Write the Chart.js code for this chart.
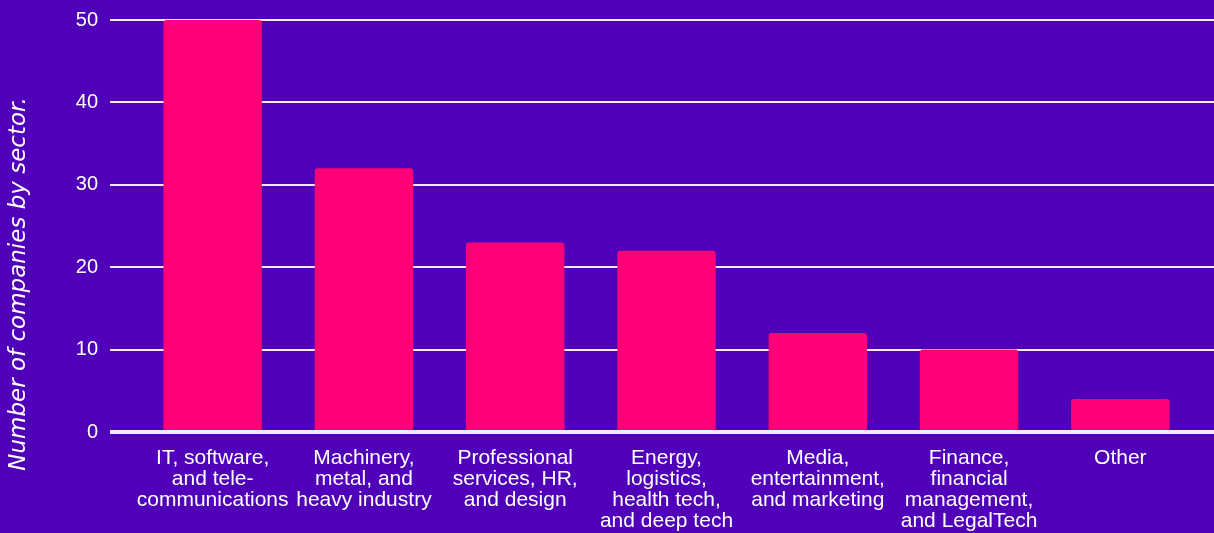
<!DOCTYPE html>
<html>
<head>
<meta charset="utf-8">
<script src="https://cdn.jsdelivr.net/npm/chart.js@4.4.0/dist/chart.umd.min.js"></script>
<style>
  html, body { margin: 0; padding: 0; background: #5000B9; overflow: hidden; }
  #wrap { width: 1214px; height: 533px; position: relative; }
</style>
</head>
<body>
<div id="wrap"><canvas id="sectorChart"></canvas></div>
<script>
var sectors = [
  ["IT, software,", "and tele-", "communications"],
  ["Machinery,", "metal, and", "heavy industry"],
  ["Professional", "services, HR,", "and design"],
  ["Energy,", "logistics,", "health tech,", "and deep tech"],
  ["Media,", "entertainment,", "and marketing"],
  ["Finance,", "financial", "management,", "and LegalTech"],
  ["Other"]
];
var companyCounts = [50, 32, 23, 22, 12, 10, 4];
var yTicks = [0, 10, 20, 30, 40, 50];
var yTitle = "Number of companies by sector.";

var barColor = "#FF0079";
var lineColor = "#F2ECFA";

function gridWidth(v) { return v === 0 ? 4 : 2; }

// gridlines run past the plot area to the right edge of the canvas
var extendGrid = {
  id: "extendGrid",
  beforeDatasetsDraw: function(chart) {
    var c = chart.ctx, y = chart.scales.y, area = chart.chartArea;
    c.save();
    c.strokeStyle = lineColor;
    yTicks.forEach(function(v) {
      var w = gridWidth(v);
      // same pixel snapping the scale uses for its own grid
      var py = Math.round(y.getPixelForValue(v) - w / 2) + w / 2;
      c.lineWidth = w;
      c.beginPath();
      c.moveTo(area.right - 1, py);
      c.lineTo(chart.width, py);
      c.stroke();
    });
    c.restore();
  }
};

// rotated axis title, drawn by hand so it can sit lower than the scale centre
var sideTitle = {
  id: "sideTitle",
  afterDraw: function(chart) {
    var c = chart.ctx;
    c.save();
    c.translate(19, 284);
    c.rotate(-Math.PI / 2);
    c.font = "oblique 23px 'DejaVu Sans', sans-serif";
    c.fillStyle = "#FFFFFF";
    c.textAlign = "center";
    c.textBaseline = "middle";
    c.fillText(yTitle, 0, 0);
    c.restore();
  }
};

var ctx = document.getElementById("sectorChart").getContext("2d");
var chart = new Chart(ctx, {
  type: "bar",
  data: {
    labels: sectors,
    datasets: [{
      label: "Companies",
      data: companyCounts,
      backgroundColor: barColor,
      borderWidth: 0,
      borderRadius: { topLeft: 3, topRight: 3, bottomLeft: 0, bottomRight: 0 },
      borderSkipped: "bottom",
      barPercentage: 0.65,
      categoryPercentage: 1.0
    }]
  },
  options: {
    responsive: true,
    maintainAspectRatio: false,
    animation: false,
    layout: { padding: { top: 20, right: 18, bottom: 0, left: 0 } },
    plugins: {
      legend: { display: false },
      tooltip: { enabled: false }
    },
    scales: {
      x: {
        grid: { display: false, drawTicks: false },
        border: { display: false },
        ticks: {
          color: "#FFFFFF",
          font: { family: "'Liberation Sans', Arial, sans-serif", size: 21, lineHeight: 1.0 },
          padding: 16,
          maxRotation: 0,
          autoSkip: false
        },
        afterFit: function(scale) { scale.height = 101; }
      },
      y: {
        min: 0,
        max: 50,
        afterBuildTicks: function(scale) {
          scale.ticks = yTicks.map(function(v) { return { value: v }; });
        },
        grid: {
          color: lineColor,
          lineWidth: function(c) { return c.tick ? gridWidth(c.tick.value) : 2; },
          drawTicks: true,
          tickLength: 27,
          tickColor: lineColor
        },
        border: { display: false },
        ticks: {
          color: "#FFFFFF",
          font: { family: "'Liberation Sans', Arial, sans-serif", size: 20 },
          padding: 12
        },
        afterFit: function(scale) {
          scale.width = 137;
          scale.paddingTop = 0;
          scale.paddingBottom = 0;
        }
      }
    }
  },
  plugins: [extendGrid, sideTitle]
});
</script>
</body>
</html>
